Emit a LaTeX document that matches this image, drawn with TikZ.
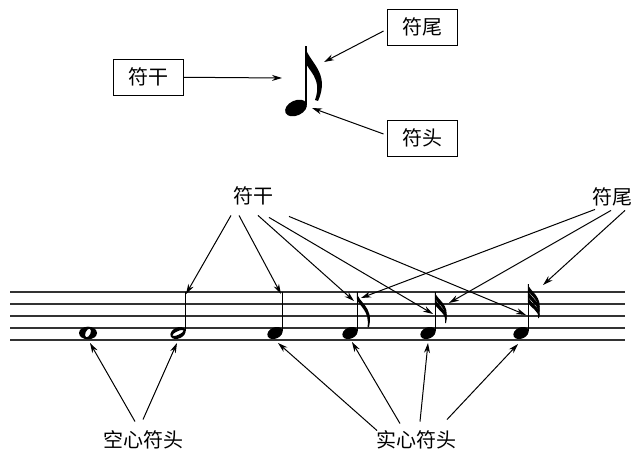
\documentclass[tikz,border=0pt]{standalone}
\usepackage{fontspec}
\newfontfamily\cjk{Noto Sans CJK SC}
\usetikzlibrary{arrows.meta}
\begin{document}
\begin{tikzpicture}[x=1pt,y=-1pt,
    box/.style={draw,line width=0.9pt,minimum width=70pt,minimum height=36pt,font=\cjk\fontsize{20}{22}\selectfont},
    lbl/.style={font=\cjk\fontsize{20}{22}\selectfont,inner sep=0pt},
    arr/.style={line width=1pt,-{Stealth[length=10pt,width=6pt]}},
    staff/.style={line width=1.3pt,black!80},
    stem/.style={line width=1.3pt}]
\useasboundingbox (0,0) rectangle (635,452);

% the note on its own
\fill[rotate around={25:(296,108)}] (296,108) ellipse (11.5 and 7.5);
\draw[line width=2.2pt] (306,105) -- (306,46);
\fill (305,46) .. controls (308,62) and (331,72) .. (318,101) -- (315,100) .. controls (323,78) and (307,70) .. (305,61) -- cycle;
\coordinate (gstem) at (282,78);
\coordinate (gflag) at (324,62);
\coordinate (ghead) at (312,108);

\node[box] (gan) at (148,77) {符干};
\node[box] (wei) at (422,27) {符尾};
\node[box] (tou) at (422,138) {符头};
\draw[arr] (gan) -- (gstem);
\draw[arr] (wei.west) ++(-3,4) -- (gflag);
\draw[arr] (tou.west) ++(-3,-4) -- (ghead);

% staff
\foreach \y in {292,304,316,328,340}
  \draw[staff] (10,\y) -- (625,\y);

% whole note
\fill[even odd rule] (88,333) ellipse (9 and 6.3) [rotate around={-25:(88,333)}] (88,333) ellipse (2.5 and 4.6);
% half note
\fill[even odd rule,rotate around={25:(178,333)}] (178,333) ellipse (8 and 5.5) (178,333) ellipse (6.2 and 1.8);
\draw[stem] (185.3,331) -- (185.3,292);
% quarter note
\fill[rotate around={25:(275,333)}] (275,333) ellipse (8 and 5.6);
\draw[stem] (282.3,331) -- (282.3,292);
% eighth note
\fill[rotate around={25:(350,333)}] (350,333) ellipse (8 and 5.6);
\draw[stem] (357.3,331) -- (357.3,292);
\fill (356.8,292) .. controls (358,303) and (374,306) .. (369,327) -- (367.5,327) .. controls (370,311) and (359,306) .. (356.8,299) -- cycle;
% sixteenth note
\fill[rotate around={25:(428,333)}] (428,333) ellipse (8 and 5.6);
\draw[stem] (435.3,331) -- (435.3,292);
\foreach \d in {0,6}
  \fill (434.8,292+\d) .. controls (437,300+\d) and (450,304+\d) .. (446,320+\d/2) -- (445,320+\d/2) .. controls (447,307+\d) and (437,304+\d) .. (434.8,298+\d) -- cycle;
% thirty-second note
\fill[rotate around={25:(521,333)}] (521,333) ellipse (8 and 5.6);
\draw[stem] (528.3,331) -- (528.3,284);
\foreach \d in {0,6,12}
  \fill (527.8,284+\d) .. controls (530,292+\d) and (543,296+\d) .. (539,312+\d/2) -- (538,312+\d/2) .. controls (540,299+\d) and (530,296+\d) .. (527.8,290+\d) -- cycle;

% where the arrows point
\coordinate (s1) at (186,294);
\coordinate (s2) at (281,294);
\coordinate (s3) at (354,301);
\coordinate (s4) at (433,314);
\coordinate (s5) at (526,315);
\coordinate (f1) at (361,298);
\coordinate (f2) at (449,303);
\coordinate (f3) at (543,285);
\coordinate (h1) at (90,343);
\coordinate (h2) at (177,343);
\coordinate (h3) at (278,343);
\coordinate (h4) at (352,342);
\coordinate (h5) at (428,343);
\coordinate (h6) at (518,344);

\node[lbl] (gtop) at (253,196) {符干};
\node[lbl] (wtop) at (612,197) {符尾};
\node[lbl] (kong) at (143,440) {空心符头};
\node[lbl] (shi) at (416,440) {实心符头};

\draw[arr] ([shift={(-22,10)}]gtop.south) -- (s1);
\draw[arr] ([shift={(-14,10)}]gtop.south) -- (s2);
\draw[arr] ([shift={(5,10)}]gtop.south) -- (s3);
\draw[arr] ([shift={(16,12)}]gtop.south) -- (s4);
\draw[arr] ([shift={(36,11)}]gtop.south) -- (s5);
\draw[arr] ([shift={(-17,3)}]wtop.south) -- (f1);
\draw[arr] ([shift={(-1,4)}]wtop.south) -- (f2);
\draw[arr] ([shift={(13,4)}]wtop.south) -- (f3);
\draw[arr] ([shift={(-8,-9)}]kong.north) -- (h1);
\draw[arr] ([shift={(0,-11)}]kong.north) -- (h2);
\draw[arr] ([shift={(-39,0)}]shi.north) -- (h3);
\draw[arr] ([shift={(-16,-7)}]shi.north) -- (h4);
\draw[arr] ([shift={(4,-9)}]shi.north) -- (h5);
\draw[arr] ([shift={(31,-11)}]shi.north) -- (h6);
\end{tikzpicture}
\end{document}
